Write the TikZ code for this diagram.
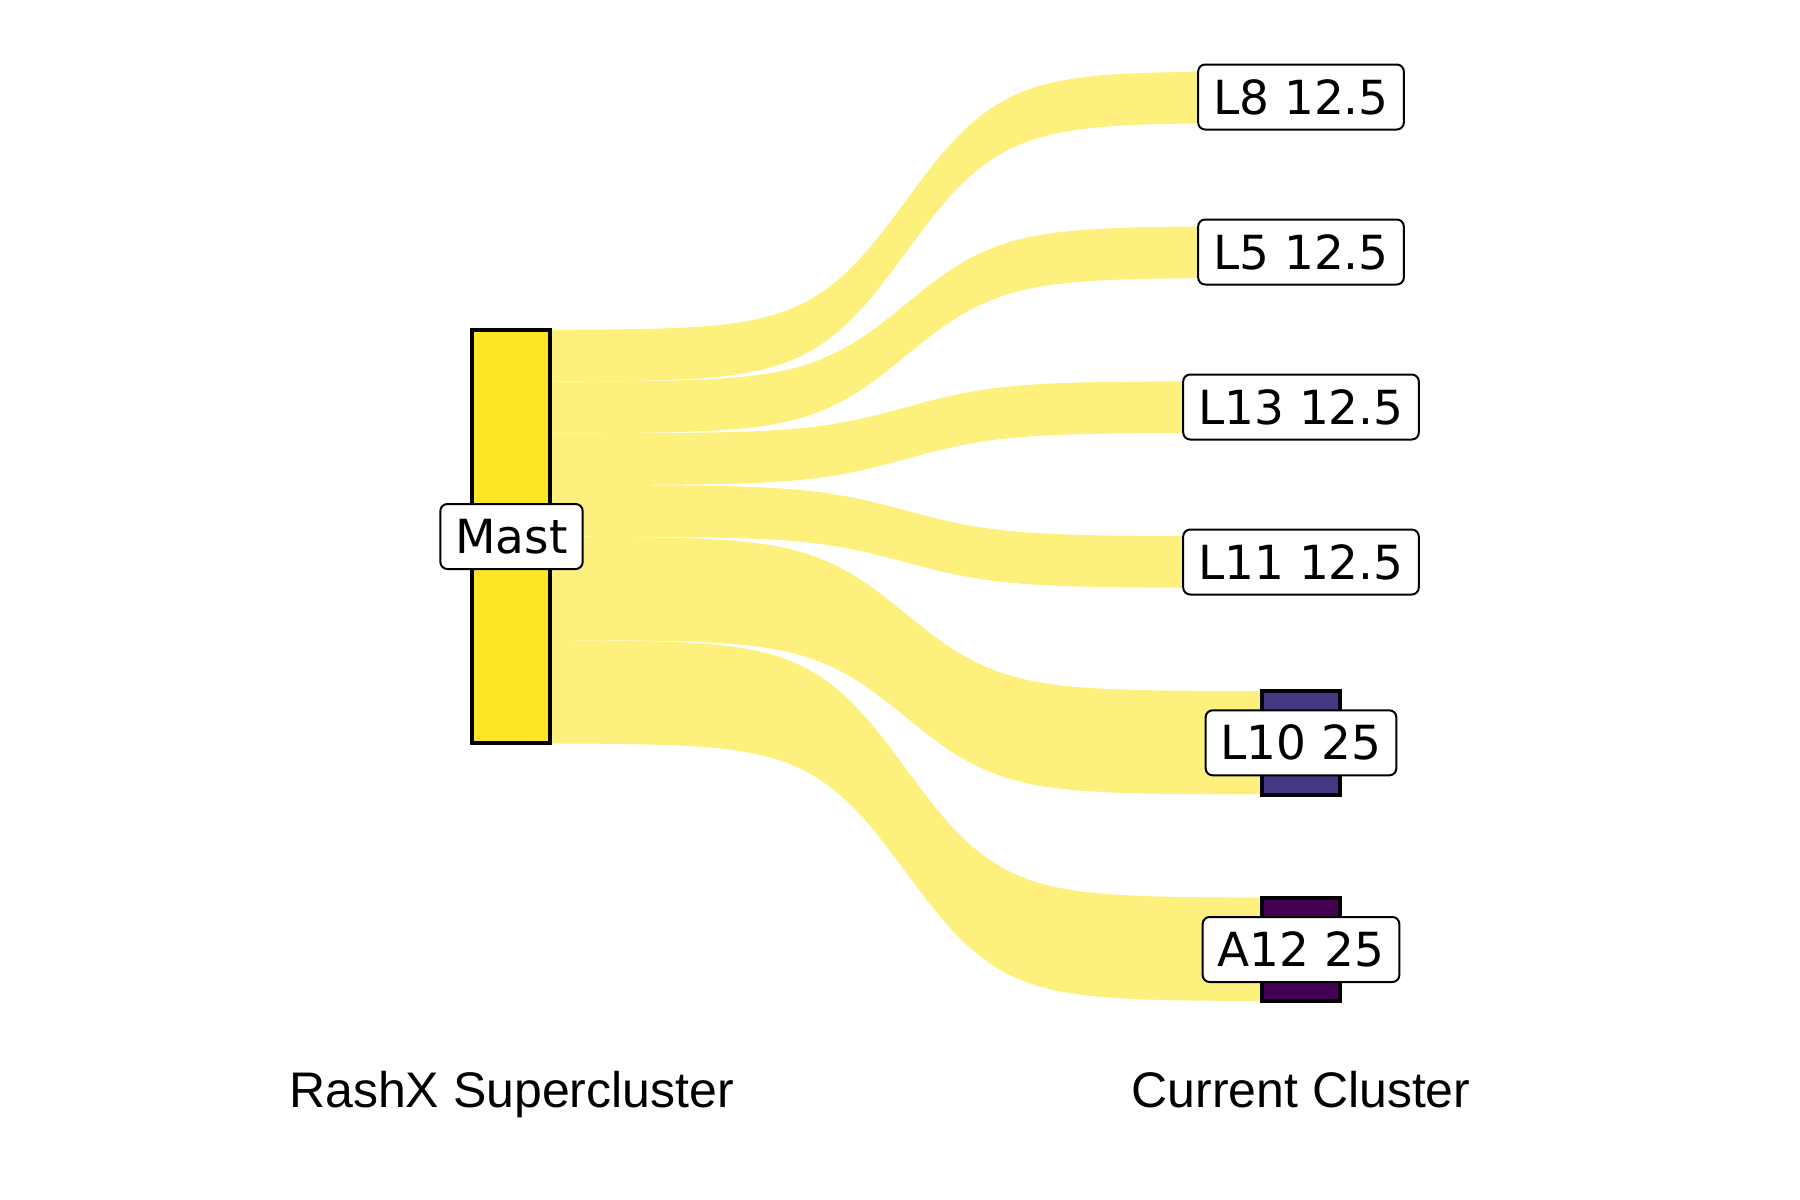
\documentclass[tikz,border=0pt]{standalone}
\usepackage{fontspec}
\setmainfont{Liberation Sans}
\newfontfamily\dejavu{DejaVu Sans}
\definecolor{flowyellow}{HTML}{FEF07C}
\definecolor{mastyellow}{HTML}{FDE725}
\definecolor{ltencol}{HTML}{453781}
\definecolor{atwelvecol}{HTML}{440154}
\newcommand\sankeyband[4]{%
  \fill[flowband] plot[domain=548:1264,samples=90] (\x,{#1+(#3-#1)*sig(\x)})
    -- plot[domain=1264:548,samples=90] (\x,{#2+(#4-#2)*sig(\x)}) -- cycle;}
\begin{document}
\begin{tikzpicture}[x=0.5pt,y=-0.5pt,
  declare function={sig(\t)=1/(1+exp(-0.021*(\t-906)));},
  flowband/.style={fill=flowyellow},
  barbox/.style={draw=black, line width=2pt, inner sep=0pt, minimum width=39pt},
  labbox/.style={draw=black, line width=1pt, fill=white, rounded corners=3.5pt,
    font=\dejavu\fontsize{23.5pt}{28pt}\selectfont, text height=17.1pt, text depth=0pt,
    minimum height=32.5pt, inner xsep=7.5pt, inner ysep=0pt},
  axislab/.style={font=\fontsize{25pt}{30pt}\selectfont, anchor=base, inner sep=0pt}]
\useasboundingbox (0,0) rectangle (1800,1200);
% flows
\sankeyband{330}{381.67}{71.17}{122.83}
\sankeyband{381.67}{433.33}{226.17}{277.83}
\sankeyband{433.33}{485}{381.17}{432.83}
\sankeyband{485}{536.67}{536.17}{587.83}
\sankeyband{536.67}{640}{691.17}{794.5}
\sankeyband{640}{743.33}{897.83}{1001.17}
% bars
\node[barbox, fill=mastyellow, minimum height=206.67pt] (mastbar) at (511,536.67) {};
\node[barbox, fill=ltencol, minimum height=51.67pt] (l10bar) at (1301,742.83) {};
\node[barbox, fill=atwelvecol, minimum height=51.67pt] (a12bar) at (1301,949.5) {};
% labels
\node[labbox] (mast) at (511.5,536.5) {Mast};
\node[labbox] (l8) at (1301,97) {L8 12.5};
\node[labbox] (l5) at (1301,252) {L5 12.5};
\node[labbox] (l13) at (1301,407) {L13 12.5};
\node[labbox] (l11) at (1301,562) {L11 12.5};
\node[labbox] (l10) at (1301,742.8) {L10 25};
\node[labbox] (a12) at (1301,949.5) {A12 25};
% axis titles
\node[axislab] (lefttitle) at (511.5,1107) {RashX Supercluster};
\node[axislab] (righttitle) at (1301,1107) {Current Cluster};
\end{tikzpicture}
\end{document}
